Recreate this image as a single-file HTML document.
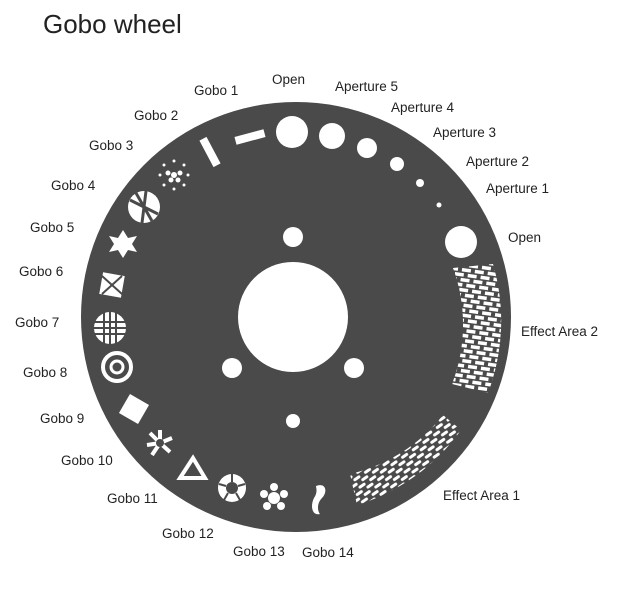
<!DOCTYPE html>
<html><head><style>
body{margin:0;background:#fff;width:620px;height:600px;overflow:hidden}
svg text{font-family:"Liberation Sans",sans-serif;fill:#222}
</style></head><body>
<svg width="620" height="600" viewBox="0 0 620 600">
<defs>
<pattern id="brick" width="13" height="10" patternUnits="userSpaceOnUse" patternTransform="rotate(8)">
<rect x="0" y="0" width="13" height="10" fill="#4a4a4a"/>
<rect x="1" y="1" width="9" height="3.5" fill="#fff"/>
<rect x="-5.5" y="6" width="9" height="3.5" fill="#fff"/>
<rect x="7.5" y="6" width="9" height="3.5" fill="#fff"/>
</pattern>
<pattern id="dash" width="13" height="9" patternUnits="userSpaceOnUse" patternTransform="rotate(-35)">
<rect x="0" y="0" width="13" height="9" fill="#4a4a4a"/>
<rect x="1" y="1" width="8" height="3" rx="1.5" fill="#fff"/>
<rect x="-5.5" y="5.5" width="8" height="3" rx="1.5" fill="#fff"/>
<rect x="7.5" y="5.5" width="8" height="3" rx="1.5" fill="#fff"/>
</pattern>
</defs>
<text x="43" y="33" font-size="26">Gobo wheel</text>
<circle cx="296" cy="317" r="215" fill="#4a4a4a"/>
<circle cx="293" cy="317" r="55" fill="#fff"/>
<circle cx="293" cy="237" r="10" fill="#fff"/>
<circle cx="232" cy="368" r="10" fill="#fff"/>
<circle cx="354" cy="368" r="10" fill="#fff"/>
<circle cx="293" cy="421" r="7" fill="#fff"/>
<circle cx="292" cy="132" r="16" fill="#fff"/>
<circle cx="332" cy="136" r="13" fill="#fff"/>
<circle cx="367" cy="148" r="10" fill="#fff"/>
<circle cx="397" cy="164" r="7" fill="#fff"/>
<circle cx="420" cy="183" r="4" fill="#fff"/>
<circle cx="439" cy="205" r="2.5" fill="#fff"/>
<circle cx="461" cy="242" r="16" fill="#fff"/>
<rect x="235" y="133" width="30" height="8" fill="#fff" transform="rotate(-15 250 137)"/>
<rect x="195" y="148" width="30" height="8" fill="#fff" transform="rotate(62 210 152)"/>
<g fill="#fff">
<circle cx="174" cy="175" r="3"/><circle cx="168" cy="173" r="2.5"/><circle cx="180" cy="173" r="2.5"/><circle cx="171" cy="180" r="2.5"/><circle cx="178" cy="180" r="2.5"/>
<circle cx="174" cy="161" r="1.5"/><circle cx="184" cy="165" r="1.5"/><circle cx="188" cy="175" r="1.5"/><circle cx="184" cy="185" r="1.5"/><circle cx="174" cy="189" r="1.5"/><circle cx="164" cy="185" r="1.5"/><circle cx="160" cy="175" r="1.5"/><circle cx="164" cy="165" r="1.5"/>
</g>
<circle cx="144" cy="207" r="16" fill="#fff"/>
<g stroke="#4a4a4a" stroke-width="3"><line x1="130" y1="200" x2="158" y2="214"/><line x1="136" y1="193" x2="152" y2="221"/><line x1="146" y1="191" x2="142" y2="223"/></g>
<polygon points="123,230 128,238 137,236 132,244 137,252 128,250 123,258 118,250 109,252 114,244 109,236 118,238" fill="#fff"/>
<rect x="101" y="274" width="22" height="22" fill="#fff" transform="rotate(10 112 285)"/>
<g stroke="#4a4a4a" stroke-width="2"><line x1="102" y1="276" x2="122" y2="294"/><line x1="122" y1="276" x2="102" y2="294"/></g>
<circle cx="110" cy="328" r="16" fill="#fff"/>
<g stroke="#4a4a4a" stroke-width="2"><line x1="94" y1="322" x2="126" y2="322"/><line x1="94" y1="328" x2="126" y2="328"/><line x1="94" y1="334" x2="126" y2="334"/><line x1="104" y1="312" x2="104" y2="344"/><line x1="110" y1="312" x2="110" y2="344"/><line x1="116" y1="312" x2="116" y2="344"/></g>
<circle cx="117" cy="367" r="14" fill="none" stroke="#fff" stroke-width="4"/>
<circle cx="117" cy="367" r="6" fill="none" stroke="#fff" stroke-width="3"/>
<rect x="123" y="398" width="22" height="22" fill="#fff" transform="rotate(30 134 409)"/>
<g stroke="#fff" stroke-width="4"><line x1="160" y1="443" x2="160" y2="430"/><line x1="160" y1="443" x2="172" y2="438"/><line x1="160" y1="443" x2="170" y2="452"/><line x1="160" y1="443" x2="152" y2="455"/><line x1="160" y1="443" x2="147" y2="445"/><line x1="160" y1="443" x2="150" y2="433"/></g>
<circle cx="160" cy="443" r="4" fill="#4a4a4a"/>
<polygon points="193,458 205,478 180,478" fill="none" stroke="#fff" stroke-width="4"/>
<circle cx="232" cy="488" r="14" fill="#fff"/>
<circle cx="232" cy="488" r="6" fill="#4a4a4a"/>
<g stroke="#4a4a4a" stroke-width="2"><line x1="232" y1="474" x2="232" y2="482"/><line x1="245" y1="484" x2="238" y2="486"/><line x1="240" y1="500" x2="236" y2="493"/><line x1="224" y1="500" x2="228" y2="493"/><line x1="219" y1="484" x2="226" y2="486"/></g>
<g fill="#fff"><circle cx="274" cy="498" r="6"/><circle cx="274" cy="487" r="4"/><circle cx="284" cy="494" r="4"/><circle cx="281" cy="506" r="4"/><circle cx="267" cy="506" r="4"/><circle cx="264" cy="494" r="4"/></g>
<path d="M316,486 C326,482 328,492 322,498 C316,504 318,512 320,514 C312,516 310,506 314,498 C318,492 316,488 316,486Z" fill="#fff"/>
<path d="M453,268 A165,165 0 0 1 452,384 L488,393 A203,203 0 0 0 493,264 Z" fill="url(#brick)"/>
<path d="M443,415 A165,165 0 0 1 350,474 L357,505 A200,200 0 0 0 461,430 Z" fill="url(#dash)"/>
<g font-size="13.5">
<text x="194" y="95">Gobo 1</text>
<text x="272" y="84">Open</text>
<text x="335" y="91">Aperture 5</text>
<text x="391" y="112">Aperture 4</text>
<text x="433" y="137">Aperture 3</text>
<text x="466" y="166">Aperture 2</text>
<text x="486" y="193">Aperture 1</text>
<text x="508" y="242">Open</text>
<text x="521" y="336">Effect Area 2</text>
<text x="443" y="500">Effect Area 1</text>
<text x="302" y="557">Gobo 14</text>
<text x="233" y="556">Gobo 13</text>
<text x="162" y="538">Gobo 12</text>
<text x="107" y="503">Gobo 11</text>
<text x="61" y="465">Gobo 10</text>
<text x="40" y="423">Gobo 9</text>
<text x="23" y="377">Gobo 8</text>
<text x="15" y="327">Gobo 7</text>
<text x="19" y="276">Gobo 6</text>
<text x="30" y="232">Gobo 5</text>
<text x="51" y="190">Gobo 4</text>
<text x="89" y="150">Gobo 3</text>
<text x="134" y="120">Gobo 2</text>
</g>
</svg>
</body></html>
